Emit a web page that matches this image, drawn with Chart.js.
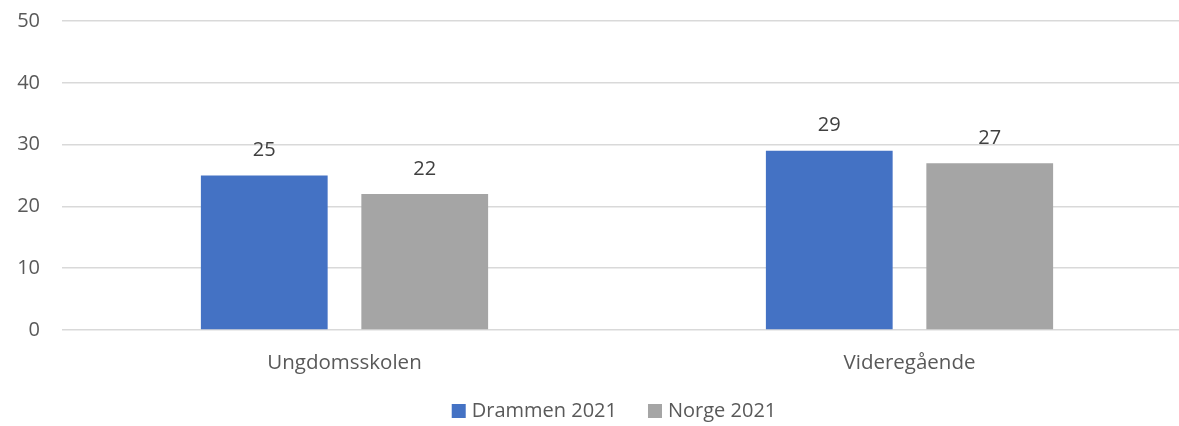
<!DOCTYPE html>
<html><head><meta charset="utf-8">
<script src="https://cdn.jsdelivr.net/npm/chart.js@4/dist/chart.umd.min.js"></script>
<style>html,body{margin:0;padding:0;background:#fff;overflow:hidden;width:1179px;height:426px}
#wrap{width:1192px;height:426px}</style></head>
<body><div id="wrap"><canvas id="c" width="1192" height="426"></canvas></div>
<script>
const categories = ["Ungdomsskolen", "Videregående"];
const drammen2021 = [25, 29];
const norge2021 = [22, 27];
const seriesNames = ["Drammen 2021", "Norge 2021"];
const yTicks = [0, 10, 20, 30, 40, 50];

const FONT = "'Open Sans', sans-serif";
const valueLabels = {
  id: 'valueLabels',
  afterDatasetsDraw(chart) {
    const ctx = chart.ctx;
    ctx.save();
    ctx.font = "20px " + FONT;
    ctx.fillStyle = "#404040";
    ctx.textAlign = "center";
    ctx.textBaseline = "middle";
    chart.data.datasets.forEach((ds, i) => {
      chart.getDatasetMeta(i).data.forEach((bar, j) => {
        ctx.fillText(String(ds.data[j]), bar.x, bar.y - 25);
      });
    });
    ctx.restore();
  }
};

// Bottom legend drawn from the datasets' labels and colours
const bottomLegend = {
  id: 'bottomLegend',
  afterDraw(chart) {
    const ctx = chart.ctx;
    ctx.save();
    ctx.font = "20px " + FONT;
    ctx.textBaseline = "middle";
    ctx.textAlign = "left";
    const box = 14, gapText = 6, gapItem = 31;
    const items = chart.data.datasets.map(ds => ({label: ds.label, color: ds.backgroundColor, w: ctx.measureText(ds.label).width}));
    const total = items.reduce((s, it) => s + box + gapText + it.w, 0) + gapItem * (items.length - 1);
    let x = 614 - total / 2;
    const y = 411;
    items.forEach(it => {
      ctx.fillStyle = it.color;
      ctx.fillRect(x, y - box / 2, box, box);
      ctx.fillStyle = '#595959';
      ctx.fillText(it.label, x + box + gapText, y);
      x += box + gapText + it.w + gapItem;
    });
    ctx.restore();
  }
};

new Chart(document.getElementById('c'), {
  type: 'bar',
  data: {
    labels: categories,
    datasets: [
      {label: seriesNames[0], data: drammen2021, backgroundColor: '#4472C4', categoryPercentage: 0.568, barPercentage: 0.79},
      {label: seriesNames[1], data: norge2021, backgroundColor: '#A5A5A5', categoryPercentage: 0.568, barPercentage: 0.79}
    ]
  },
  options: {
    responsive: false,
    animation: false,
    layout: {padding: {top: 21, left: 0, right: 0, bottom: 40}},
    plugins: {
      legend: {display: false},
      tooltip: {enabled: false}
    },
    scales: {
      x: {
        grid: {display: false},
        border: {display: false},
        afterFit(axis) { axis.height = 56; },
        ticks: {color: '#595959', font: {family: FONT, size: 20.5}, padding: 13}
      },
      y: {
        min: 0, max: 50,
        afterBuildTicks(axis) { axis.ticks = yTicks.map(v => ({value: v})); },
        afterFit(axis) { axis.width = 62; axis.paddingTop = 0; axis.paddingBottom = 0; },
        grid: {color: '#D9D9D9', lineWidth: 1.5, drawTicks: false},
        border: {display: false},
        ticks: {color: '#595959', font: {family: FONT, size: 20}, padding: 22}
      }
    }
  },
  plugins: [valueLabels, bottomLegend]
});
</script></body></html>
